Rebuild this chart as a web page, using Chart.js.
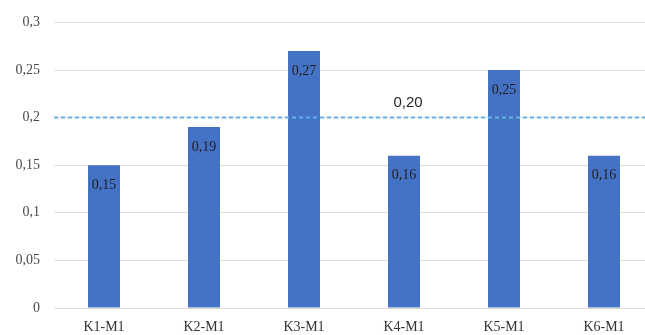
<!DOCTYPE html>
<html>
<head>
<meta charset="utf-8">
<script src="https://cdn.jsdelivr.net/npm/chart.js@4.4.1/dist/chart.umd.min.js"></script>
<style>
  html, body { margin: 0; padding: 0; background: #ffffff; }
  #wrap { width: 645px; height: 335px; position: relative; overflow: hidden; }
  #c { position: absolute; left: 0; top: 0; }
</style>
</head>
<body>
<div id="wrap"><canvas id="c" width="654" height="335"></canvas></div>
<script>
// Categories and measured values
const categories = ['K1-M1', 'K2-M1', 'K3-M1', 'K4-M1', 'K5-M1', 'K6-M1'];
const values = [0.15, 0.19, 0.27, 0.16, 0.25, 0.16];
const thresholdValue = 0.20;
const yTicks = [0, 0.05, 0.1, 0.15, 0.2, 0.25, 0.3];

const serif = '"Liberation Serif", "Times New Roman", serif';
const fmt = (v, d) => v.toFixed(d).replace('.', ',');
const tickText = v => String(Math.round(v * 100) / 100).replace('.', ',');

// Dashed reference line with its label
const thresholdPlugin = {
  id: 'threshold',
  afterDatasetsDraw(chart) {
    const { ctx, chartArea, scales } = chart;
    const y = scales.y.getPixelForValue(thresholdValue);
    ctx.save();
    ctx.strokeStyle = '#5db3e6';
    ctx.lineWidth = 2;
    ctx.setLineDash([4, 3]);
    ctx.beginPath();
    ctx.moveTo(chartArea.left, y);
    ctx.lineTo(chartArea.right, y);
    ctx.stroke();
    ctx.setLineDash([]);
    ctx.fillStyle = '#262626';
    ctx.font = '15px "Liberation Sans", Arial, sans-serif';
    ctx.textAlign = 'center';
    ctx.textBaseline = 'middle';
    const x = scales.x.getPixelForValue(3) + 4;
    ctx.fillText(fmt(thresholdValue, 2), x, y - 15);
    ctx.restore();
  }
};

// Value labels drawn just inside the top of each bar
const barLabelPlugin = {
  id: 'barLabels',
  afterDatasetsDraw(chart) {
    const { ctx } = chart;
    const meta = chart.getDatasetMeta(0);
    ctx.save();
    ctx.fillStyle = '#1e1e1e';
    ctx.font = '14px ' + serif;
    ctx.textAlign = 'center';
    ctx.textBaseline = 'middle';
    meta.data.forEach((bar, i) => {
      ctx.fillText(fmt(values[i], 2), bar.x, bar.y + 20);
    });
    ctx.restore();
  }
};

new Chart(document.getElementById('c'), {
  type: 'bar',
  data: {
    labels: categories,
    datasets: [{
      data: values,
      backgroundColor: '#4472c4',
      borderWidth: 0,
      categoryPercentage: 1,
      barPercentage: 0.32
    }]
  },
  options: {
    responsive: false,
    animation: false,
    layout: { padding: { top: 22, right: 0, left: 0, bottom: 0 } },
    plugins: { legend: { display: false }, tooltip: { enabled: false } },
    scales: {
      x: {
        grid: { display: false },
        border: { display: false },
        ticks: {
          color: '#333333',
          font: { family: serif, size: 14 },
          padding: 3
        },
        afterFit(s) { s.height = 27; }
      },
      y: {
        min: 0,
        max: 0.3,
        afterBuildTicks(s) { s.ticks = yTicks.map(v => ({ value: v })); },
        grid: { color: '#e8ddd6', lineWidth: 1, drawTicks: false },
        border: { display: false },
        ticks: {
          color: '#4a4a4a',
          font: { family: serif, size: 14 },
          padding: 14,
          callback: v => tickText(v)
        },
        afterFit(s) { s.width = 54; }
      }
    }
  },
  plugins: [thresholdPlugin, barLabelPlugin]
});
</script>
</body>
</html>
